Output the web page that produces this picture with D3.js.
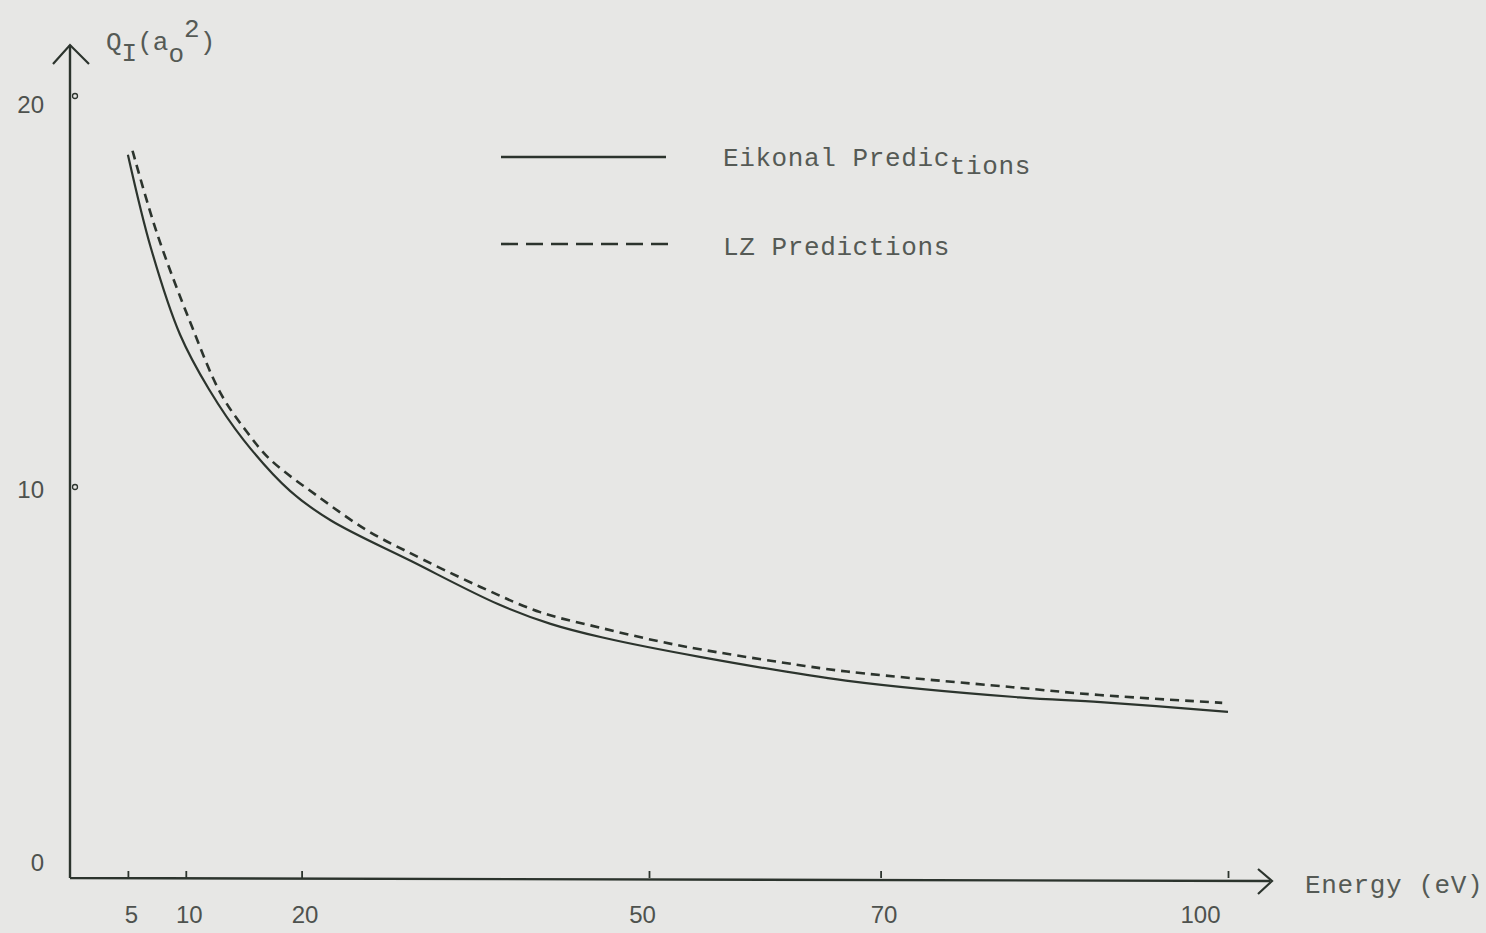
<!DOCTYPE html>
<html>
<head>
<meta charset="utf-8">
<script src="https://cdn.jsdelivr.net/npm/d3@7"></script>
<style>
  body { margin: 0; background: #e7e7e5; }
  svg { display: block; }
  .tw { font-family: "Liberation Mono", monospace; fill: #555a55; letter-spacing: 0.6px; }
  .num { font-family: "Liberation Sans", Arial, sans-serif; fill: #4e524e; }
</style>
</head>
<body>
<svg id="chart" width="1486" height="933"></svg>
<script>
"use strict";

// values (energy in eV, cross section in a0^2)
let eikonalEnergy = [5, 7, 9.5, 12, 15, 19, 22.5, 29.5, 37, 41.5, 46, 54.5, 67, 82, 89, 100];
let eikonalQ      = [18.5, 16.1, 13.9, 12.5, 11.2, 9.9, 9.15, 8.1, 7.0, 6.5, 6.15, 5.65, 5.05, 4.62, 4.5, 4.25];

let lzEnergy = [5.4, 7.5, 10.4, 13, 15.3, 17.3, 21.6, 25.6, 29.1, 35.4, 40.6, 45.8, 50.9, 54.4, 61.3, 67.1, 81.4, 88.9, 99.5];
let lzQ      = [18.6, 16.5, 14.2, 12.4, 11.4, 10.7, 9.72, 8.9, 8.35, 7.45, 6.8, 6.4, 6.05, 5.85, 5.52, 5.28, 4.88, 4.68, 4.48];

let xTicks = [5, 10, 20, 50, 70, 100];
let yTicks = [0, 10, 20];

let ink = '#2c342d';

let svg = d3.select('#chart');

let x = d3.scaleLinear().domain([0, 100]).range([70, 1228]);
let y = d3.scaleLinear().domain([0, 20]).range([878, 96]);

// x axis, ticks point up like the hand drawn ones
let xAxis = d3.axisBottom(x)
  .tickValues(xTicks)
  .tickSizeInner(-7)
  .tickSizeOuter(0)
  .tickPadding(28)
  .tickFormat(d3.format('d'));

let xg = svg.append('g')
  .attr('transform', `translate(0,${y(0)})`)
  .call(xAxis);
xg.select('.domain').remove();
xg.selectAll('.tick line').attr('stroke', ink).attr('stroke-width', 1.8);
xg.selectAll('.tick text')
  .attr('class', 'num')
  .style('font-size', '24px')
  .attr('dx', d => d == 100 ? -28 : (d == 50 ? -7 : 3));

let yAxis = d3.axisLeft(y)
  .tickValues(yTicks)
  .tickSize(0)
  .tickPadding(26);

let yg = svg.append('g')
  .attr('transform', `translate(${x(0)},0)`)
  .call(yAxis);
yg.select('.domain').remove();
yg.selectAll('.tick text')
  .attr('class', 'num')
  .style('font-size', '24px')
  .attr('dy', d => d == 0 ? '-0.3em' : (d == 20 ? '0.7em' : '0.45em'));

// small circle marks on the y axis
svg.append('g').selectAll('circle')
  .data(yTicks.filter(d => d > 0))
  .join('circle')
    .attr('cx', x(0) + 5)
    .attr('cy', d => y(d))
    .attr('r', 2.5)
    .attr('fill', 'none')
    .attr('stroke', ink)
    .attr('stroke-width', 1.3);

// axis lines with open arrow heads
let axisPath = d3.path();
axisPath.moveTo(x(0), y(0));
axisPath.lineTo(x(0), 45);
axisPath.moveTo(x(0), y(0));
axisPath.lineTo(1270, y(0) + 3);
svg.append('path')
  .attr('d', axisPath.toString())
  .attr('fill', 'none')
  .attr('stroke', ink)
  .attr('stroke-width', 2.4);

svg.append('path')
  .attr('d', d3.line()([[53, 64], [x(0), 45], [89, 64]]))
  .attr('fill', 'none')
  .attr('stroke', ink)
  .attr('stroke-width', 2.2);
svg.append('path')
  .attr('d', d3.line()([[1258, 869], [1272, 881], [1258, 894]]))
  .attr('fill', 'none')
  .attr('stroke', ink)
  .attr('stroke-width', 2.2);

// curves
let line = d3.line()
  .x(d => x(d[0]))
  .y(d => y(d[1]))
  .curve(d3.curveCatmullRom.alpha(0.5));

svg.append('path')
  .datum(d3.zip(eikonalEnergy, eikonalQ))
  .attr('d', line)
  .attr('fill', 'none')
  .attr('stroke', ink)
  .attr('stroke-width', 2.2);

svg.append('path')
  .datum(d3.zip(lzEnergy, lzQ))
  .attr('d', line)
  .attr('fill', 'none')
  .attr('stroke', ink)
  .attr('stroke-width', 2.6)
  .attr('stroke-dasharray', '9,6');

// legend
svg.append('line')
  .attr('x1', 501).attr('x2', 666)
  .attr('y1', 157).attr('y2', 157)
  .attr('stroke', ink)
  .attr('stroke-width', 2.4);
svg.append('line')
  .attr('x1', 501).attr('x2', 668)
  .attr('y1', 244).attr('y2', 244)
  .attr('stroke', ink)
  .attr('stroke-width', 2.6)
  .attr('stroke-dasharray', '17,8');

let eik = svg.append('text')
  .attr('class', 'tw')
  .attr('x', 723)
  .attr('y', 166)
  .style('font-size', '26px');
eik.append('tspan').text('Eikonal Predic');
eik.append('tspan').attr('dy', 8).text('tions');

svg.append('text')
  .attr('class', 'tw')
  .attr('x', 723)
  .attr('y', 255)
  .style('font-size', '26px')
  .text('LZ Predictions');

svg.append('text')
  .attr('class', 'tw')
  .attr('x', 1305)
  .attr('y', 893)
  .style('font-size', '26px')
  .text('Energy (eV)');

// y axis title Q_I(a_o^2)
let yt = svg.append('text')
  .attr('class', 'tw')
  .attr('x', 106)
  .attr('y', 50)
  .style('font-size', '26px')
  .style('letter-spacing', '0px');
yt.append('tspan').text('Q');
yt.append('tspan').attr('dy', 11).text('I');
yt.append('tspan').attr('dy', -11).text('(a');
yt.append('tspan').attr('dy', 12).text('o');
yt.append('tspan').attr('dy', -25).text('2');
yt.append('tspan').attr('dy', 13).text(')');
</script>
</body>
</html>
